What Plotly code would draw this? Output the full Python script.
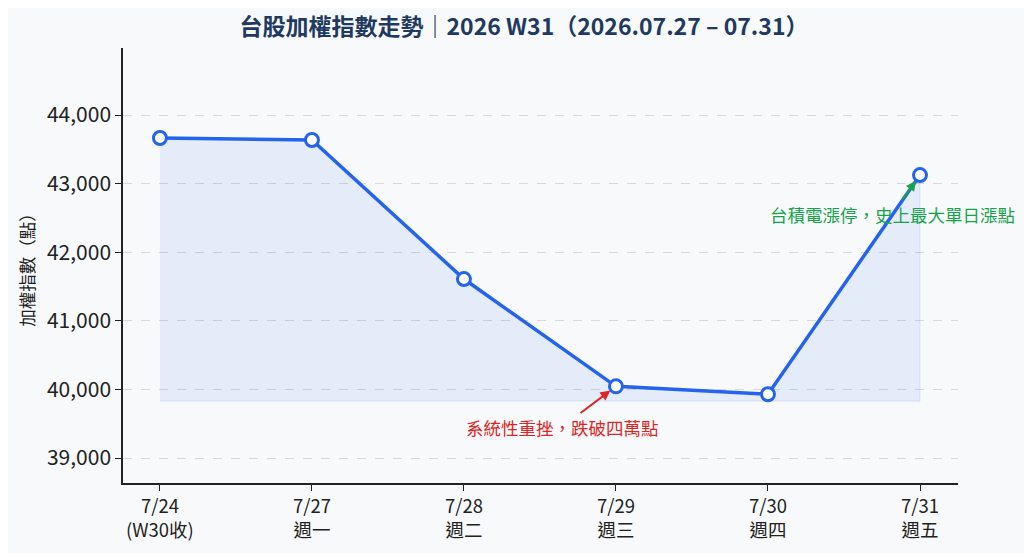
import plotly.graph_objects as go

# 台股加權指數 W31 收盤
dates = ["7/24", "7/27", "7/28", "7/29", "7/30", "7/31"]
day_labels = ["(W30收)", "週一", "週二", "週三", "週四", "週五"]
close = [43665, 43636, 41609, 40045, 39930, 43125]

y_ticks = [39000, 40000, 41000, 42000, 43000, 44000]

blue = "#2563eb"
font_name = "Noto Sans CJK TC"

xs = list(range(len(dates)))
base = min(close) - 100

fig = go.Figure()

# shaded area under the line
fig.add_trace(go.Scatter(
    x=xs + xs[::-1],
    y=close + [base] * len(xs),
    fill="toself",
    fillcolor="rgba(37,99,235,0.09)",
    line=dict(color="rgba(37,99,235,0.12)", width=1),
    mode="lines",
    hoverinfo="skip",
    showlegend=False,
))

fig.add_trace(go.Scatter(
    x=xs,
    y=close,
    mode="lines+markers",
    line=dict(color=blue, width=3.5),
    marker=dict(size=13, color="white", line=dict(color=blue, width=3)),
    showlegend=False,
))

fig.add_annotation(
    x=3, y=close[3], ax=2.645, ay=39452,
    xref="x", yref="y", axref="x", ayref="y",
    text="系統性重挫，跌破四萬點",
    font=dict(color="#dc2626", size=17.5, family=font_name),
    showarrow=True, arrowhead=2, arrowsize=1, arrowwidth=2,
    arrowcolor="#dc2626", standoff=7,
)
fig.add_annotation(
    x=5, y=close[5], ax=4.816, ay=42557,
    xref="x", yref="y", axref="x", ayref="y",
    text="台積電漲停，史上最大單日漲點",
    font=dict(color="#16a34a", size=17.5, family=font_name),
    showarrow=True, arrowhead=2, arrowsize=1, arrowwidth=2,
    arrowcolor="#16a34a", standoff=7,
)

fig.update_layout(
    width=1032, height=553,
    paper_bgcolor="#f8f9fb",
    plot_bgcolor="#f8f9fb",
    margin=dict(l=115, r=82, t=40, b=78),
    font=dict(family=font_name, color="#222222"),
    title=dict(
        text="<b>台股加權指數走勢｜2026 W31（2026.07.27 – 07.31）</b>",
        x=0.5, xanchor="center", y=1 - 19 / 553, yanchor="middle",
        font=dict(size=23, color="#1f3a60", family=font_name),
    ),
    xaxis=dict(
        range=[-0.243, 5.25],
        tickmode="array",
        tickvals=xs,
        ticktext=[d + "<br>" + l for d, l in zip(dates, day_labels)],
        tickfont=dict(size=18.5, color="#222222"),
        showgrid=False, zeroline=False,
        showline=True, linecolor="#222222", linewidth=1.5,
        ticks="outside", ticklen=6, tickcolor="#222222",
    ),
    yaxis=dict(
        range=[38636, 44977],
        tickmode="array",
        tickvals=y_ticks,
        ticktext=[f"{v:,}" for v in y_ticks],
        tickfont=dict(size=21, color="#222222"),
        showgrid=True, gridcolor="#d9d9d9", griddash="dash", gridwidth=1,
        zeroline=False,
        showline=True, linecolor="#222222", linewidth=1.5,
        ticks="outside", ticklen=6, tickcolor="#222222",
        title=dict(text="加權指數（點）", font=dict(size=17.5, color="#222222"), standoff=8),
    ),
)

fig.write_html("out.html")
